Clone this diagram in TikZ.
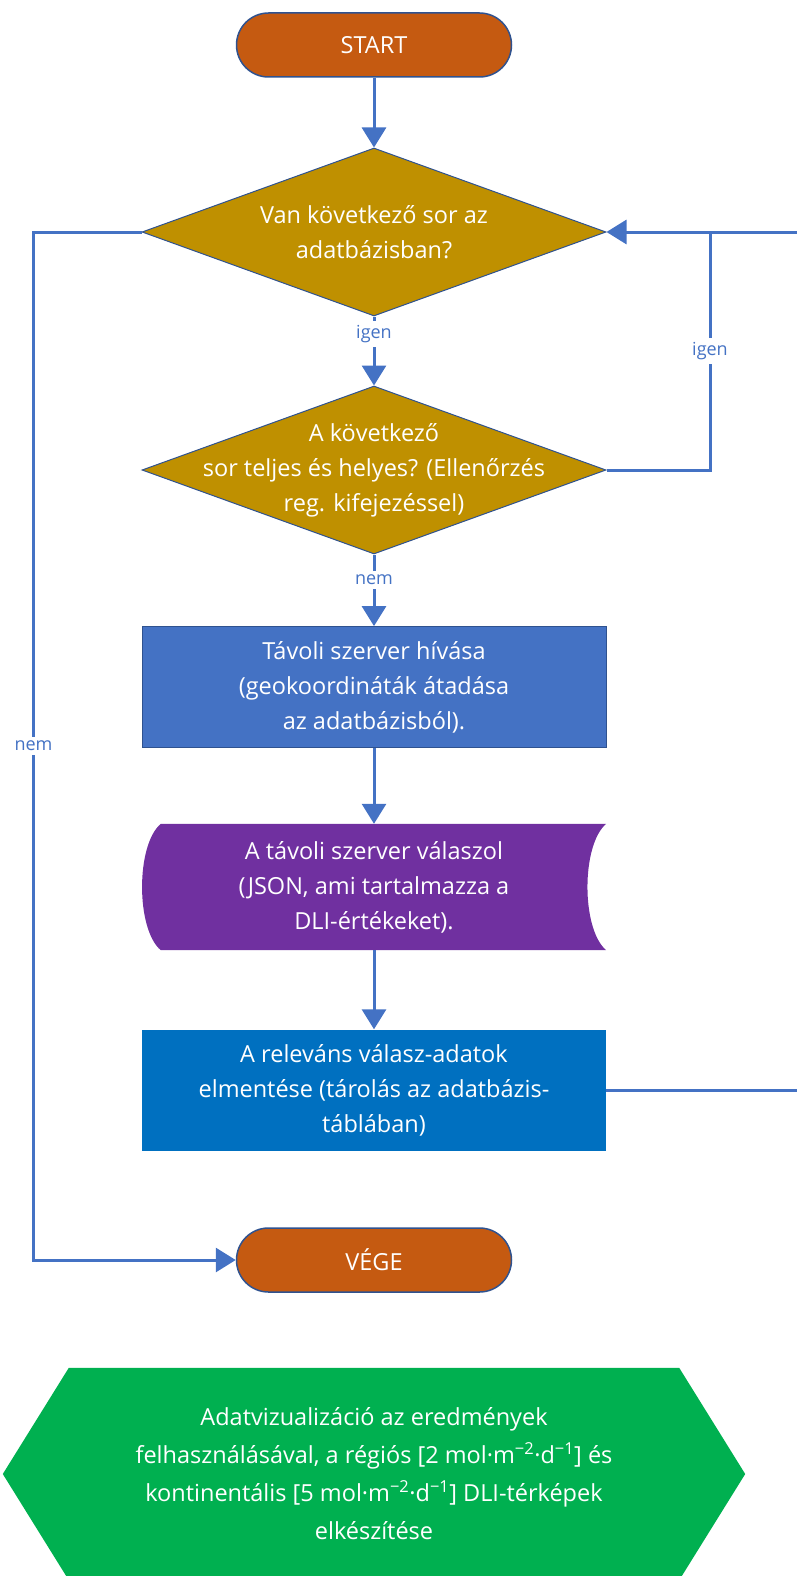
\documentclass[tikz,border=0pt]{standalone}
\usepackage{fontspec}
\setmainfont{Open Sans}
\usetikzlibrary{shapes.geometric, arrows.meta, backgrounds}

\definecolor{termorange}{HTML}{C55A11}
\definecolor{decgold}{HTML}{BF9000}
\definecolor{callblue}{HTML}{4472C4}
\definecolor{resppurple}{HTML}{7030A0}
\definecolor{saveblue}{HTML}{0070C0}
\definecolor{vizgreen}{HTML}{00B050}
\definecolor{lineblue}{HTML}{4472C4}
\definecolor{edgeblue}{HTML}{2F528F}

\begin{document}
\begin{tikzpicture}[x=1pt, y=-1pt,
    every node/.style={font=\fontsize{23.5}{35}\selectfont, text=white, align=center, inner sep=0pt},
    terminal/.style={draw=edgeblue, line width=1.5pt, fill=termorange, rounded corners=32pt, minimum width=275pt, minimum height=64pt},
    decision/.style={diamond, draw=edgeblue, line width=1pt, fill=decgold, minimum width=464pt, minimum height=168pt},
    process/.style={minimum width=464pt, minimum height=121pt},
    flow/.style={draw=lineblue, line width=3pt, -{Triangle[width=24pt,length=20pt]}},
    link/.style={draw=lineblue, line width=3pt},
    answer/.style={font=\fontsize{18}{20}\selectfont, text=lineblue, fill=white, inner sep=4pt}]

    \useasboundingbox (0,0) rectangle (797,1576);
    \clip (0,0) rectangle (797,1576);

    % Start and end
    \node[terminal] (start) at (374,45) {START};
    \node[terminal] (stop) at (374,1260) {VÉGE};

    % Decisions
    \node[decision] (q1) at (374,232) {};
    \node (q1txt) at (q1) {Van következő sor az\\adatbázisban?};
    \node[decision] (q2) at (374,470) {};
    \node (q2txt) at (q2) {A következő\\sor teljes és helyes? (Ellenőrzés\\reg. kifejezéssel)};

    % Steps
    \node[process, fill=callblue, draw=edgeblue, line width=0.8pt] (call) at (374,687) {Távoli szerver hívása\\(geokoordináták átadása\\az adatbázisból).};
    \node[process, minimum height=126pt] (resp) at (374,887) {A távoli szerver válaszol\\(JSON, ami tartalmazza a\\DLI-értékeket).};
    \node[process, fill=saveblue] (save) at (374,1090) {A releváns válasz-adatok\\elmentése (tárolás az adatbázis-\\táblában)};

    % Visualisation
    \node[minimum width=742pt, minimum height=212pt, font=\fontsize{23.5}{38}\selectfont] (viz) at (374,1474) {Adatvizualizáció az eredmények\\felhasználásával, a régiós [2 mol·m\textsuperscript{−2}·d\textsuperscript{−1}] és\\kontinentális [5 mol·m\textsuperscript{−2}·d\textsuperscript{−1}] DLI-térképek\\elkészítése};

    \begin{pgfonlayer}{background}
        \fill[resppurple] ([xshift=19pt]resp.north west) -- (resp.north east)
            .. controls +(-25,21) and +(-25,-21) .. (resp.south east)
            -- ([xshift=19pt]resp.south west)
            .. controls +(-25,-21) and +(-25,21) .. ([xshift=19pt]resp.north west) -- cycle;
        \fill[vizgreen] (viz.west) -- ([xshift=66pt]viz.north west) -- ([xshift=-66pt]viz.north east)
            -- (viz.east) -- ([xshift=-66pt]viz.south east) -- ([xshift=66pt]viz.south west) -- cycle;
    \end{pgfonlayer}

    % Edges
    \coordinate (join) at (710,232);
    \draw[flow] (start) -- (q1);
    \draw[flow] (q1) -- (q2) node[answer, pos=0.25] {igen};
    \draw[flow] (q2) -- (call) node[answer, pos=0.35] {nem};
    \draw[flow] (call) -- (resp);
    \draw[flow] (resp) -- (save);
    \draw[link] (q2.east) -| (join) node[answer, pos=0.75] {igen};
    \draw[flow] (save.east) -- ++(240,0) |- (q1.east);
    \draw[flow] (q1.west) -- ++(-108,0) |- (stop.west) node[answer, pos=0.25] {nem};
\end{tikzpicture}
\end{document}
